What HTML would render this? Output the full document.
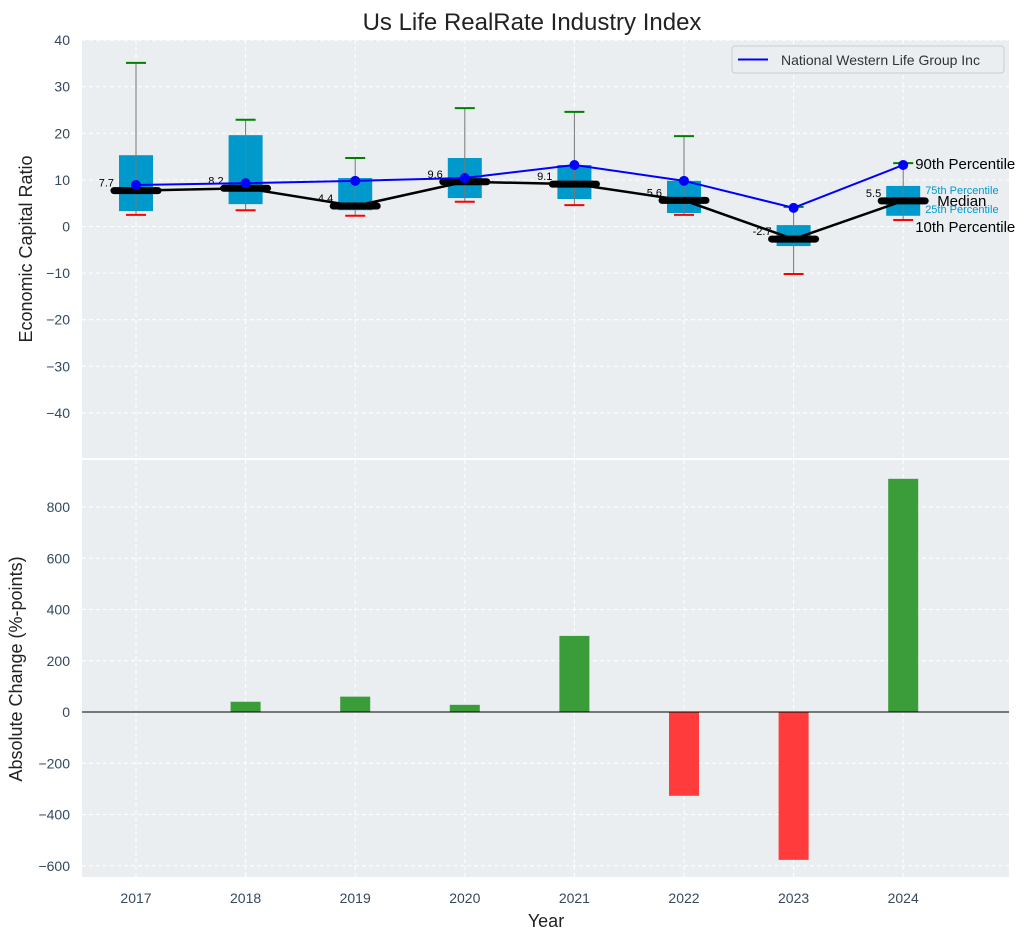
<!DOCTYPE html>
<html><head><meta charset="utf-8"><style>
body{margin:0;background:#fff;font-family:"Liberation Sans",sans-serif;}
svg text{font-family:"Liberation Sans",sans-serif;}
</style></head><body>
<svg id="chart" width="1034" height="940" xmlns="http://www.w3.org/2000/svg">
<text x="532" y="30" font-size="24" text-anchor="middle" fill="#222">Us Life RealRate Industry Index</text>
<rect x="82" y="40" width="927" height="418" fill="#eaeef0"/>
<rect x="82" y="460" width="927" height="417" fill="#eaeef0"/>
<g id="gtop"></g><g id="gbot"></g>
<text x="32" y="249" font-size="18" fill="#222" text-anchor="middle" transform="rotate(-90 32 249)">Economic Capital Ratio</text>
<text x="22" y="669" font-size="18" fill="#222" text-anchor="middle" transform="rotate(-90 22 669)">Absolute Change (%-points)</text>
<text x="546" y="927" font-size="18" fill="#222" text-anchor="middle">Year</text>
<g>
<rect x="732" y="46" width="272" height="27" rx="3" fill="#eaeef0" stroke="#ccc"/>
<line x1="738" y1="59.5" x2="768" y2="59.5" stroke="#0000ff" stroke-width="2"/>
<text x="781" y="65" font-size="14" fill="#333">National Western Life Group Inc</text>
</g>
</svg>
<script>
const years=[2017,2018,2019,2020,2021,2022,2023,2024];
const p90=[35.1,22.9,14.7,25.4,24.6,19.4,4.2,13.6];
const q3=[15.3,19.6,10.4,14.7,13.2,9.8,0.3,8.7];
const median=[7.7,8.2,4.4,9.6,9.1,5.6,-2.7,5.5];
const q1=[3.3,4.8,3.5,6.1,5.9,2.9,-4.2,2.3];
const p10=[2.5,3.5,2.3,5.3,4.6,2.5,-10.2,1.4];
const company=[8.9,9.3,9.8,10.4,13.2,9.8,4.0,13.2];
const change=[0,40,60,28,297,-327,-577,910];
const topTicks=[40,30,20,10,0,-10,-20,-30,-40];
const botTicks=[800,600,400,200,0,-200,-400,-600];
(function(){
const NS="http://www.w3.org/2000/svg";
const X=y=>136+(y-2017)*109.6;
const YT=v=>226.5-v*4.66;
const YB=v=>712-v*0.25625;
const fmt=t=>String(t).replace('-','\u2212');
function mk(p,t,a){const e=document.createElementNS(NS,t);for(const k in a)e.setAttribute(k,a[k]);p.appendChild(e);return e;}
const gTop=document.getElementById('gtop'),gBot=document.getElementById('gbot');
topTicks.forEach(t=>{const l=mk(gTop,'line',{x1:82,x2:1009,y1:YT(t),y2:YT(t),stroke:'#fff','stroke-dasharray':'4,3'});


const tx=mk(gTop,'text',{x:70,y:YT(t)+5,'font-size':14,fill:'#34495e','text-anchor':'end'});tx.textContent=fmt(t);

});
botTicks.forEach(t=>{const l=mk(gBot,'line',{x1:82,x2:1009,y1:YB(t),y2:YB(t),stroke:'#fff','stroke-dasharray':'4,3'});


const tx=mk(gBot,'text',{x:70,y:YB(t)+5,'font-size':14,fill:'#34495e','text-anchor':'end'});tx.textContent=fmt(t);

});
years.forEach(y=>{[gTop,gBot].forEach((g,i)=>{const l=mk(g,'line',{x1:X(y),x2:X(y),y1:i?460:40,y2:i?877:458,stroke:'#fff','stroke-dasharray':'4,3'});

});
const tx=mk(gBot,'text',{x:X(y),y:903,'font-size':14,fill:'#34495e','text-anchor':'middle'});tx.textContent=y;

});
years.forEach((y,i)=>{const x=X(y);
const b=mk(gTop,'rect',{x:x-17,y:YT(q3[i]),width:34,height:YT(q1[i])-YT(q3[i]),fill:'#0099cc'});


const w=mk(gTop,'line',{x1:x,x2:x,y1:YT(p90[i]),y2:YT(p10[i]),stroke:'#777','stroke-width':1});


const a=mk(gTop,'line',{x1:x-10,x2:x+10,y1:YT(p90[i]),y2:YT(p90[i]),stroke:'green','stroke-width':2});


const c=mk(gTop,'line',{x1:x-10,x2:x+10,y1:YT(p10[i]),y2:YT(p10[i]),stroke:'red','stroke-width':2});

});
const ml=mk(gTop,'polyline',{points:years.map((y,i)=>X(y)+','+YT(median[i])).join(' '),fill:'none',stroke:'#000','stroke-width':2.5});


years.forEach((y,i)=>{const x=X(y);
const m=mk(gTop,'line',{x1:x-22,x2:x+22,y1:YT(median[i]),y2:YT(median[i]),stroke:'#000','stroke-width':7,'stroke-linecap':'round'});


const t=mk(gTop,'text',{x:x-22,y:YT(median[i])-4,'font-size':11,fill:'#000','text-anchor':'end'});t.textContent=median[i].toFixed(1);

});
const cl=mk(gTop,'polyline',{points:years.map((y,i)=>X(y)+','+YT(company[i])).join(' '),fill:'none',stroke:'#0000ff','stroke-width':2});


years.forEach((y,i)=>{const d=mk(gTop,'circle',{cx:X(y),cy:YT(company[i]),r:5,fill:'#0000ff'});

});
const L=years.length-1,lx=X(years[L])+12;
[['90th Percentile',lx,YT(p90[L])+6,15,'#000'],['75th Percentile',lx+10,YT(q3[L])+8,11,'#0099cc'],['Median',lx+22,YT(median[L])+5,15,'#000'],['25th Percentile',lx+10,YT(q1[L])-3,11,'#0099cc'],['10th Percentile',lx,YT(p10[L])+12,15,'#000']].forEach(a=>{
const t=mk(gTop,'text',{x:a[1],y:a[2],'font-size':a[3],fill:a[4]});t.textContent=a[0];

});
years.forEach((y,i)=>{const v=change[i];const b=mk(gBot,'rect',{x:X(y)-15,y:Math.min(YB(v),YB(0)),width:30,height:Math.abs(YB(v)-YB(0)),fill:v>=0?'#3a9d3a':'#ff3b3b'});

});
const z=mk(gBot,'line',{x1:82,x2:1009,y1:YB(0),y2:YB(0),stroke:'#000','stroke-width':1});


})();
</script>
</body></html>
